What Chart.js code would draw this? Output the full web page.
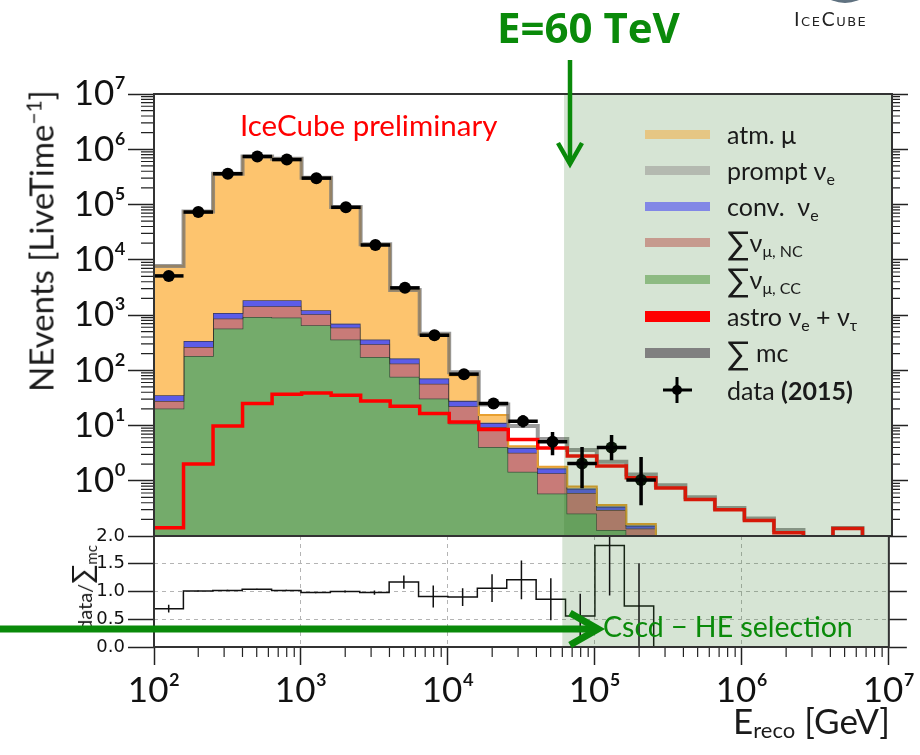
<!DOCTYPE html>
<html>
<head>
<meta charset="utf-8">
<script src="https://cdn.jsdelivr.net/npm/chart.js@4.4.1/dist/chart.umd.min.js"></script>
<style>
  body { margin: 0; background: #fff; }
  #wrap { position: relative; width: 920px; height: 755px; overflow: hidden; font-family: Lato, 'Noto Sans', 'DejaVu Sans', sans-serif; color: #1a1a1a; }
  canvas { position: absolute; left: 0; }
  #mainCanvas { top: 0; }
  #ratioCanvas { top: 520px; }
  .lbl { position: absolute; white-space: nowrap; line-height: 1; }
  .sw { position: absolute; left: 645px; width: 65px; }
  .lt { position: absolute; left: 727px; font-size: 25px; line-height: 30px; white-space: nowrap; }
  .lt sub { font-size: 16px; vertical-align: -5px; }
  .sig { font-size: 33px; vertical-align: -3px; }
</style>
</head>
<body>
<div id="wrap">
  <canvas id="mainCanvas" width="920" height="560" style="width:920px;height:560px"></canvas>
  <canvas id="ratioCanvas" width="920" height="235" style="width:920px;height:235px"></canvas>

  <!-- legend -->
  <div class="sw" style="top:130px;height:9px;background:#e6c684"></div>
  <div class="lt" style="top:119px">atm. μ</div>
  <div class="sw" style="top:166px;height:9px;background:#b4b9b0"></div>
  <div class="lt" style="top:155px">prompt ν<sub>e</sub></div>
  <div class="sw" style="top:202px;height:9px;background:#8287e6"></div>
  <div class="lt" style="top:191px">conv. &nbsp;ν<sub>e</sub></div>
  <div class="sw" style="top:238px;height:9px;background:#c69a8e"></div>
  <div class="lt" style="top:227px"><span class="sig">∑</span>ν<sub>μ, NC</sub></div>
  <div class="sw" style="top:275px;height:9px;background:#8dba82"></div>
  <div class="lt" style="top:264px"><span class="sig">∑</span>ν<sub>μ, CC</sub></div>
  <div class="sw" style="top:311px;height:11px;background:#ff0000"></div>
  <div class="lt" style="top:301px">astro ν<sub>e</sub> + ν<sub>τ</sub></div>
  <div class="sw" style="top:348px;height:10px;background:#808080"></div>
  <div class="lt" style="top:337px"><span class="sig">∑</span> mc</div>
  <div class="lt" style="top:375px">data <b>(2015)</b></div>

  <!-- titles and notes -->
  <div class="lbl" style="left:240px;top:110px;font-size:29.5px;color:#ff0000">IceCube preliminary</div>
  <div class="lbl" style="left:497px;top:6px;font-size:42px;font-weight:bold;font-family:'Open Sans',sans-serif;color:#0a8a0a">E=60 TeV</div>
  <div class="lbl" style="left:40px;top:241px;font-size:33px;transform:translate(-50%,-50%) rotate(-90deg)">NEvents [LiveTime<sup style="font-size:21px">−1</sup>]</div>
  <div class="lbl" style="left:83px;top:588px;font-size:20px;transform:translate(-50%,-50%) rotate(-90deg)">data/<span style="font-size:28px">∑</span><sub style="font-size:15px">mc</sub></div>
  <div class="lbl" style="right:30px;top:703px;font-size:35px">E<sub style="font-size:22px;vertical-align:-4px">reco</sub> [GeV]</div>
  <div class="lbl" style="left:603px;top:612px;font-size:28.5px;color:#0a8a0a">Cscd − HE selection</div>

  <!-- logo -->
  <div style="position:absolute;left:812px;top:-60px;width:66px;height:63px;border-radius:50%;background:radial-gradient(circle at 50% 30%,#9fb2c0,#4d5f6e)"></div>
  <div class="lbl" style="left:794px;top:10px;font-size:19px;font-variant:small-caps;letter-spacing:1.5px;font-family:'DejaVu Sans',sans-serif;color:#222">IceCube</div>

  <svg width="920" height="755" style="position:absolute;left:0;top:0;pointer-events:none">
    <line x1="570" y1="60" x2="570" y2="162" stroke="#0a8a0a" stroke-width="4.5"/>
    <polyline points="558,143 570,164 582,143" fill="none" stroke="#0a8a0a" stroke-width="4.5"/>
    <line x1="0" y1="629" x2="596" y2="629" stroke="#0a8a0a" stroke-width="7"/>
    <polyline points="570,613 598,629 570,645" fill="none" stroke="#0a8a0a" stroke-width="7"/>
    <!-- data legend marker -->
    <line x1="663" y1="390" x2="692" y2="390" stroke="#000" stroke-width="3"/>
    <line x1="677" y1="377" x2="677" y2="403" stroke="#000" stroke-width="3"/>
    <circle cx="677" cy="390" r="5" fill="#000"/>
  </svg>
</div>

<script>
// bin edges, 0.2 decade wide
const binEdges = [100, 158.5, 251.2, 398.1, 631.0, 1000, 1585, 2512, 3981, 6310,
  1e4, 15849, 25119, 39811, 63096, 1e5, 158489, 251189, 398107, 630957,
  1e6, 1584893, 2511886, 3981072, 6309573, 1e7];

// stacked MC components per bin
const numuCC = [20.3, 181, 568, 920, 898, 651, 359, 174, 76, 30.8, 10.9, 4.1, 1.45, 0.59, 0.256, 0.128, 0.08, 0.04, 0.02, 0.01, 0.006, 0.004, 0.002, 0.001, 0.001];
const numuNC = [7.6, 83, 293, 516, 538, 379, 232, 121, 56, 26.2, 11.4, 5.3, 1.75, 0.77, 0.344, 0.166, 0.057, 0.035, 0.015, 0.008, 0.008, 0.008, 0.003, 0.002, 0.001];
const convNuE = [7.4, 75, 226, 409, 409, 186, 107, 64, 31, 14, 5.6, 1.7, 0.7, 0.31, 0.12, 0.046, 0.016, 0.01, 0.004, 0.002, 0.002, 0.001, 0.001, 0, 0];
const promptNuE = [0.02, 0.2, 0.8, 2, 3, 3, 2.5, 2, 1.3, 0.8, 0.45, 0.25, 0.12, 0.06, 0.03, 0.015, 0.008, 0.005, 0.002, 0.001, 0.001, 0.001, 0.0005, 0.0003, 0.0002];
const atmMu = [7650, 74660, 358900, 738000, 668000, 303800, 89300, 18640, 2640, 371, 52, 4.2, 0.2, 0.07, 0.04, 0.01, 0.004, 0, 0, 0, 0, 0, 0, 0, 0];
const astroNu = [0.141, 2.0, 9.8, 25.0, 36.8, 38.9, 35.3, 27.9, 22.3, 16.5, 11.6, 8.5, 5.6, 3.9, 2.8, 1.84, 1.13, 0.74, 0.46, 0.30, 0.19, 0.114, 0, 0.137, 0];

// data (2015)
const dataCounts = [5100, 73000, 360000, 740000, 650000, 300000, 89000, 18500, 3100, 430, 85, 25, 12, 5.1, 2.05, 4.0, 1.03, null, null, null, null, null, null, null, null];
const dataLow = [null, null, null, null, null, null, null, null, null, null, null, 20, 9.2, 2.9, 0.73, 2.36, 0.36, null, null, null, null, null, null, null, null];
const dataHigh = [null, null, null, null, null, null, null, null, null, null, null, 30, 15.3, 7.66, 4.1, 6.7, 2.7, null, null, null, null, null, null, null, null];

// data / sum mc
const ratioValues = [0.69, 1.01, 1.02, 1.04, 1.02, 0.98, 1.00, 0.98, 1.17, 0.91, 0.90, 1.06, 1.21, 0.86, 0.56, 1.83, 0.74, 0, 0, 0, 0, 0, 0, 0, 0];
const ratioErrors = [0.07, 0.01, 0.01, 0.01, 0.01, 0.01, 0.02, 0.04, 0.12, 0.2, 0.16, 0.25, 0.35, 0.38, 0.4, 0.9, 0.77, null, null, null, null, null, null, null, null];

const yTicksMain = [1, 10, 100, 1e3, 1e4, 1e5, 1e6, 1e7];
const yTickLabels = ['10⁰', '10¹', '10²', '10³', '10⁴', '10⁵', '10⁶', '10⁷'];
const yTicksRatio = [0, 0.5, 1, 1.5, 2];
const yTickLabelsRatio = ['0.0', '0.5', '1.0', '1.5', '2.0'];
const xTicks = [1e2, 1e3, 1e4, 1e5, 1e6, 1e7];
const xTickLabels = ['10²', '10³', '10⁴', '10⁵', '10⁶', '10⁷'];
const cutEnergy = 6e4;

Chart.defaults.font.family = "Lato, 'DejaVu Sans', sans-serif";

const FLOOR = 1e-4;
function stepPoints(values, floor) {
  const pts = values.map((v, i) => ({ x: binEdges[i], y: floor ? Math.max(v, floor) : v }));
  const last = values[values.length - 1];
  pts.push({ x: binEdges[values.length], y: floor ? Math.max(last, floor) : last });
  return pts;
}

// cumulative stack: CC, NC, conv, prompt, atm mu
const layers = [numuCC, numuNC, convNuE, promptNuE, atmMu];
const cumul = [];
let running = numuCC.map(() => 0);
layers.forEach(l => {
  running = running.map((r, i) => r + l[i]);
  cumul.push(running);
});
const sumMC = cumul[4].map((v, i) => v + astroNu[i]);

const binCenter = i => Math.sqrt(binEdges[i] * binEdges[i + 1]);

const lineBase = { stepped: true, pointRadius: 0, tension: 0 };

const mainDatasets = [
  { ...lineBase, data: stepPoints(cumul[0], FLOOR), fill: 'start', backgroundColor: '#74ab6b', borderColor: 'rgba(40,40,40,0.75)', borderWidth: 1.5, order: 8 },
  { ...lineBase, data: stepPoints(cumul[1], FLOOR), fill: '-1', backgroundColor: '#c87b78', borderColor: 'rgba(40,40,40,0.75)', borderWidth: 1.5, order: 7 },
  { ...lineBase, data: stepPoints(cumul[2], FLOOR), fill: '-1', backgroundColor: '#5c5ce8', borderColor: 'rgba(40,40,40,0.75)', borderWidth: 1.5, order: 6 },
  { ...lineBase, data: stepPoints(cumul[3], FLOOR), fill: '-1', backgroundColor: '#9d9d9d', borderColor: 'rgba(0,0,0,0)', borderWidth: 0, order: 5 },
  { ...lineBase, data: stepPoints(cumul[4], FLOOR), fill: '-1', backgroundColor: '#fdc46e', borderColor: '#e8a030', borderWidth: 2, order: 4 },
  { ...lineBase, data: stepPoints(sumMC, FLOOR), fill: false, borderColor: 'rgba(120,120,120,0.75)', borderWidth: 4, order: 3 },
  { ...lineBase, data: stepPoints(astroNu, FLOOR), fill: false, borderColor: '#ff0000', borderWidth: 3.5, order: 2 },
  { data: dataCounts.map((v, i) => v == null ? null : { x: binCenter(i), y: v }).filter(Boolean),
    showLine: false, pointRadius: 6, pointBackgroundColor: '#000', pointBorderWidth: 0, order: 0 }
];

const shadePlugin = {
  id: 'cutShade',
  afterDatasetsDraw(chart) {
    const { ctx, chartArea: a, scales: { x } } = chart;
    const xl = x.getPixelForValue(cutEnergy);
    ctx.save();
    ctx.fillStyle = 'rgba(50,120,40,0.2)';
    ctx.fillRect(xl, a.top, a.right - xl, a.bottom - a.top);
    ctx.restore();
  }
};

const framePlugin = {
  id: 'frame',
  afterDraw(chart) {
    const { ctx, chartArea: a } = chart;
    ctx.save();
    ctx.strokeStyle = '#333';
    ctx.lineWidth = 2;
    ctx.strokeRect(a.left, a.top, a.right - a.left, a.bottom - a.top);
    ctx.restore();
  }
};

const dataErrorPlugin = {
  id: 'dataErrors',
  afterDatasetsDraw(chart) {
    const { ctx, chartArea: a, scales: { x, y } } = chart;
    ctx.save();
    ctx.beginPath();
    ctx.rect(a.left, a.top, a.right - a.left, a.bottom - a.top);
    ctx.clip();
    ctx.strokeStyle = '#000';
    ctx.lineWidth = 3.5;
    dataCounts.forEach((v, i) => {
      if (v == null) return;
      const yc = y.getPixelForValue(v);
      ctx.beginPath();
      ctx.moveTo(x.getPixelForValue(binEdges[i]), yc);
      ctx.lineTo(x.getPixelForValue(binEdges[i + 1]), yc);
      if (dataLow[i] != null) {
        const xc = x.getPixelForValue(binCenter(i));
        ctx.moveTo(xc, y.getPixelForValue(dataLow[i]));
        ctx.lineTo(xc, y.getPixelForValue(dataHigh[i]));
      }
      ctx.stroke();
    });
    ctx.restore();
  }
};

const mainMinorTicks = {
  id: 'mainMinor',
  afterDraw(chart) {
    const { ctx, chartArea: a, scales: { y } } = chart;
    ctx.save();
    ctx.strokeStyle = '#222';
    ctx.lineWidth = 1.2;
    for (let n = -1; n < 7; n++) {
      for (let k = 2; k < 10; k++) {
        const py = y.getPixelForValue(k * Math.pow(10, n));
        ctx.beginPath();
        ctx.moveTo(a.left - 13, py); ctx.lineTo(a.left, py);
        ctx.moveTo(a.right, py); ctx.lineTo(a.right + 8, py);
        ctx.stroke();
      }
    }
    ctx.restore();
  }
};

new Chart(document.getElementById('mainCanvas'), {
  type: 'line',
  data: { datasets: mainDatasets },
  options: {
    responsive: false,
    animation: false,
    layout: { padding: { top: 94, bottom: 24, left: 0, right: 0 } },
    plugins: { legend: { display: false }, tooltip: { enabled: false } },
    scales: {
      x: { type: 'logarithmic', min: 100, max: 1e7, display: false },
      y: {
        type: 'logarithmic', position: 'left', min: 0.1, max: 1e7,
        afterBuildTicks: s => { s.ticks = yTicksMain.map(v => ({ value: v })); },
        afterFit: s => { s.width = 154; },
        grid: { drawOnChartArea: false, tickLength: 26, tickWidth: 1.5, tickColor: '#222' },
        border: { display: false },
        ticks: { font: { size: 35 }, color: '#111', padding: 2, autoSkip: false, callback: (v, i) => yTickLabels[i] }
      },
      yR: {
        type: 'logarithmic', position: 'right', min: 0.1, max: 1e7,
        afterBuildTicks: s => { s.ticks = yTicksMain.map(v => ({ value: v })); },
        afterFit: s => { s.width = 28; },
        grid: { drawOnChartArea: false, tickLength: 16, tickWidth: 1.5, tickColor: '#222' },
        border: { display: false },
        ticks: { display: false }
      }
    }
  },
  plugins: [shadePlugin, dataErrorPlugin, mainMinorTicks, framePlugin]
});

const ratioErrorPlugin = {
  id: 'ratioErrors',
  afterDatasetsDraw(chart) {
    const { ctx, chartArea: a, scales: { x, y } } = chart;
    ctx.save();
    ctx.beginPath();
    ctx.rect(a.left, a.top, a.right - a.left, a.bottom - a.top);
    ctx.clip();
    ctx.strokeStyle = '#111';
    ctx.lineWidth = 1.5;
    ratioErrors.forEach((e, i) => {
      if (e == null) return;
      const xc = x.getPixelForValue(binCenter(i));
      ctx.beginPath();
      ctx.moveTo(xc, y.getPixelForValue(ratioValues[i] - e));
      ctx.lineTo(xc, y.getPixelForValue(ratioValues[i] + e));
      ctx.stroke();
    });
    ctx.restore();
  }
};

const ratioMinorTicks = {
  id: 'ratioMinor',
  afterDraw(chart) {
    const { ctx, chartArea: a, scales: { x } } = chart;
    ctx.save();
    ctx.strokeStyle = '#222';
    ctx.lineWidth = 1.2;
    for (let n = 2; n < 7; n++) {
      for (let k = 2; k < 10; k++) {
        const px = x.getPixelForValue(k * Math.pow(10, n));
        ctx.beginPath();
        ctx.moveTo(px, a.bottom); ctx.lineTo(px, a.bottom + 10);
        ctx.stroke();
      }
    }
    ctx.restore();
  }
};

new Chart(document.getElementById('ratioCanvas'), {
  type: 'line',
  data: {
    datasets: [
      { ...lineBase, data: stepPoints(ratioValues, 0), fill: false, borderColor: '#111', borderWidth: 1.5 }
    ]
  },
  options: {
    responsive: false,
    animation: false,
    layout: { padding: { top: 16, bottom: 0, left: 0, right: 0 } },
    plugins: { legend: { display: false }, tooltip: { enabled: false } },
    scales: {
      x: {
        type: 'logarithmic', min: 100, max: 1e7,
        afterBuildTicks: s => { s.ticks = xTicks.map(v => ({ value: v })); },
        afterFit: s => { s.height = 108; },
        grid: { color: '#b4b4b4', lineWidth: 1, tickLength: 18, tickWidth: 1.5, tickColor: '#222' },
        border: { display: false, dash: [4, 4] },
        ticks: { font: { size: 35 }, color: '#111', padding: 5, maxRotation: 0, autoSkip: false, callback: (v, i) => xTickLabels[i] }
      },
      y: {
        type: 'linear', min: 0, max: 2,
        afterBuildTicks: s => { s.ticks = yTicksRatio.map(v => ({ value: v })); },
        afterFit: s => { s.width = 154; },
        grid: { color: '#b4b4b4', lineWidth: 1, tickLength: 26, tickWidth: 1.5, tickColor: '#222' },
        border: { display: false, dash: [4, 4] },
        ticks: { font: { family: "'DejaVu Sans', sans-serif", size: 18 }, color: '#111', padding: 3, callback: (v, i) => yTickLabelsRatio[i] }
      },
      yR: {
        type: 'linear', position: 'right', min: 0, max: 2,
        afterBuildTicks: s => { s.ticks = yTicksRatio.map(v => ({ value: v })); },
        afterFit: s => { s.width = 28; },
        grid: { drawOnChartArea: false, tickLength: 18, tickWidth: 1.5, tickColor: '#222' },
        border: { display: false },
        ticks: { display: false }
      }
    }
  },
  plugins: [shadePlugin, ratioErrorPlugin, ratioMinorTicks, framePlugin]
});
</script>
</body>
</html>
